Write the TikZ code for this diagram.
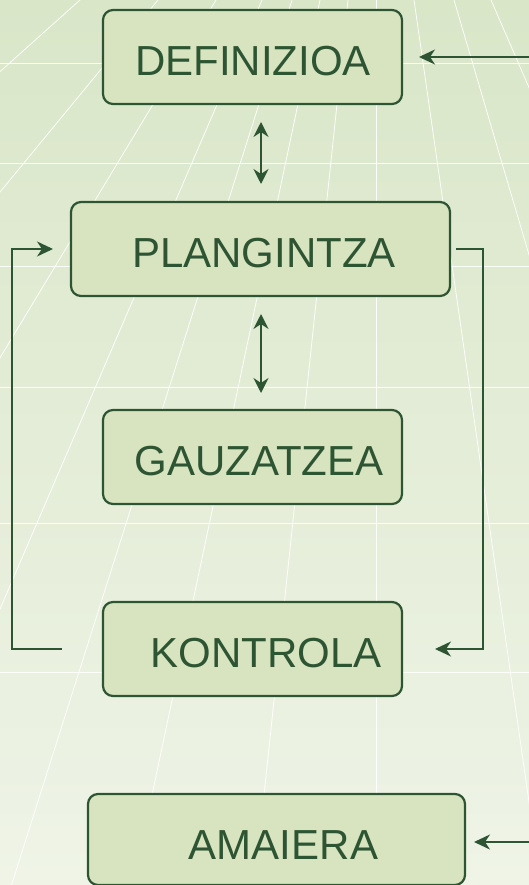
\documentclass[tikz,border=0pt]{standalone}
\usepackage{fontspec}
\setmainfont{Liberation Sans}
\usetikzlibrary{arrows.meta,calc}
\definecolor{dg}{HTML}{2E5533}
\definecolor{boxfill}{HTML}{D8E4BF}
\definecolor{bgtop}{HTML}{D9E6C8}
\definecolor{bgbot}{HTML}{EFF4E7}
\begin{document}
\begin{tikzpicture}[x=1pt,y=-1pt,
  stagebox/.style={draw=dg, line width=2.2pt, fill=boxfill, rounded corners=10pt,
    minimum height=94pt, outer sep=0pt, inner sep=0pt, text=dg,
    font=\fontsize{42}{50}\selectfont, text height=37pt, text depth=0pt},
  arr/.style={draw=dg, line width=2.2pt, -{Stealth[length=16pt,width=15pt,inset=5pt]}},
  darr/.style={draw=dg, line width=2.2pt,
    {Stealth[length=15pt,width=15pt,inset=5pt]}-{Stealth[length=15pt,width=15pt,inset=5pt]}},
  gridline/.style={white, line width=0.8pt, opacity=0.9}]
\useasboundingbox (0,0) rectangle (529,885);
\fill[top color=bgtop, bottom color=bgbot] (0,0) rectangle (529,885);
\begin{scope}
  \clip (0,0) rectangle (529,885);
  \foreach \dx in {-296,-218,-160,-114,-84,-56,-28,0,38,78,115,160}
    \draw[gridline] (376,-265) -- ($(376,-265)!4.6!({376+\dx},0)$);
  \foreach \yy in {63,163,266,387,523,672}
    \draw[gridline] (0,\yy) -- (529,\yy);
\end{scope}

\node[stagebox, minimum width=299pt] (def) at (252.5,57) {\hspace*{1pt}DEFINIZIOA};
\node[stagebox, minimum width=379pt] (plan) at (260.5,249) {\hspace*{7pt}PLANGINTZA};
\node[stagebox, minimum width=299pt] (gau) at (252.5,457) {\hspace*{13pt}GAUZATZEA};
\node[stagebox, minimum width=299pt] (kon) at (252.5,649) {\hspace*{27pt}KONTROLA};
\node[stagebox, minimum width=377pt, minimum height=91pt, text height=39pt] (ama) at (276.5,839.5) {\hspace*{14pt}AMAIERA};

\coordinate (defIn) at (529,57);
\draw[arr] (defIn) -- ($(def.east)+(17,0)$);
\draw[darr] ($(def.south)+(8.5,18)$) -- ($(plan.north)+(0.5,-18)$);
\draw[darr] ($(plan.south)+(0.5,18)$) -- ($(gau.north)+(8.5,-17)$);
\draw[arr] ($(kon.west)+(-41,0)$) -- ++(-50,0) |- ($(plan.west)+(-18,0)$);
\draw[arr] ($(plan.east)+(6,0)$) -- ++(27,0) |- ($(kon.east)+(33,0)$);
\coordinate (amaIn) at (529,842);
\draw[arr] (amaIn) -- ($(ama.east)+(9,2.5)$);
\end{tikzpicture}
\end{document}
